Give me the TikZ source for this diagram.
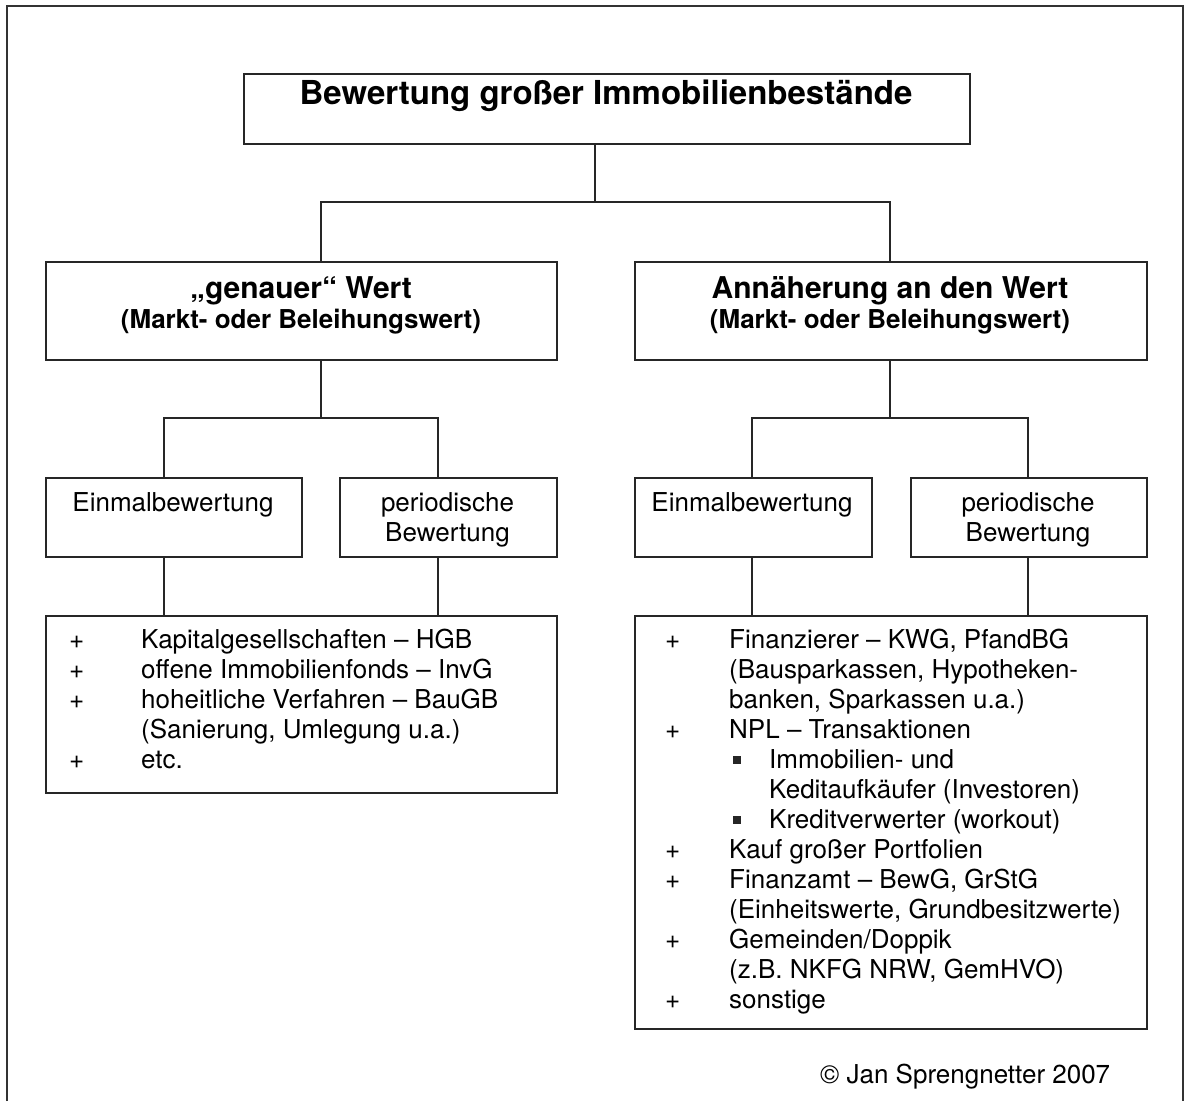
\documentclass[tikz,border=0pt]{standalone}
\usepackage{fontspec}
\setmainfont{TeX Gyre Heros}
\begin{document}
\begin{tikzpicture}[x=1pt,y=-1pt,
  box/.style={draw=black!85,line width=1.8pt,rectangle,inner sep=0pt,anchor=north west},
  conn/.style={draw=black!85,line width=1.4pt},
  normal/.style={inner sep=0pt,font=\fontsize{26}{30}\selectfont},
  subhead/.style={inner sep=0pt,font=\bfseries\fontsize{26}{30}\selectfont,anchor=base},
  head/.style={inner sep=0pt,font=\bfseries\fontsize{30}{36}\selectfont,anchor=base},
  titlefont/.style={inner sep=0pt,font=\bfseries\fontsize{33}{38}\selectfont,anchor=base},
  bulletsq/.style={fill=black!85,inner sep=0pt,minimum size=8.5pt,rectangle}]
\useasboundingbox (0,0) rectangle (1186,1101);
\fill[white] (0,0) rectangle (1186,1101);
% outer frame (open at bottom)
\draw[draw=black!80,line width=2.6pt] (7,1101) -- (7,6) -- (1183,6) -- (1183,1101);

% boxes
\node[box,minimum width=726pt,minimum height=70pt] (top) at (243,73) {};
\node[box,minimum width=511pt,minimum height=98pt] (gen) at (45,261) {};
\node[box,minimum width=512pt,minimum height=98pt] (ann) at (634,261) {};
\node[box,minimum width=256pt,minimum height=79pt] (e1) at (45,477) {};
\node[box,minimum width=217pt,minimum height=79pt] (p1) at (339,477) {};
\node[box,minimum width=237pt,minimum height=79pt] (e2) at (634,477) {};
\node[box,minimum width=236pt,minimum height=79pt] (p2) at (910,477) {};
\node[box,minimum width=511pt,minimum height=177pt] (l1) at (45,615) {};
\node[box,minimum width=512pt,minimum height=413pt] (l2) at (634,615) {};

% connector positions
\coordinate (xa) at (595,0);
\coordinate (xl) at (321,0);
\coordinate (xr) at (890,0);
\coordinate (xle) at (164,0);
\coordinate (xlp) at (438,0);
\coordinate (xre) at (752,0);
\coordinate (xrp) at (1028,0);
\coordinate (hj) at (0,202);
\coordinate (hl) at (0,418);

\draw[conn] (top.south -| xa) -- (xa |- hj);
\draw[conn] (gen.north -| xl) -- (xl |- hj) -- (xr |- hj) -- (ann.north -| xr);
\draw[conn] (gen.south -| xl) -- (xl |- hl);
\draw[conn] (e1.north -| xle) -- (xle |- hl) -- (xlp |- hl) -- (p1.north -| xlp);
\draw[conn] (e1.south -| xle) -- (l1.north -| xle);
\draw[conn] (p1.south -| xlp) -- (l1.north -| xlp);
\draw[conn] (ann.south -| xr) -- (xr |- hl);
\draw[conn] (e2.north -| xre) -- (xre |- hl) -- (xrp |- hl) -- (p2.north -| xrp);
\draw[conn] (e2.south -| xre) -- (l2.north -| xre);
\draw[conn] (p2.south -| xrp) -- (l2.north -| xrp);

% texts in boxes
\node[titlefont] (t0) at (606,104) {Bewertung großer Immobilienbestände};
\node[head] (tg1) at (301,298) {„genauer“ Wert};
\node[subhead] (tg2) at (301,328) {(Markt- oder Beleihungswert)};
\node[head] (ta1) at (890,298) {Annäherung an den Wert};
\node[subhead] (ta2) at (890,328) {(Markt- oder Beleihungswert)};
\node[normal,anchor=base] (te1) at (173,511) {Einmalbewertung};
\node[normal,anchor=base] (tp1a) at (447.5,511) {periodische};
\node[normal,anchor=base] (tp1b) at (447.5,541) {Bewertung};
\node[normal,anchor=base] (te2) at (752,511) {Einmalbewertung};
\node[normal,anchor=base] (tp2a) at (1028,511) {periodische};
\node[normal,anchor=base] (tp2b) at (1028,541) {Bewertung};

% left list
\foreach \yy/\nm in {648/a,678/b,708/c,768/e}
  \node[normal,anchor=base west] (lp\nm) at (69,\yy) {+};
\node[normal,anchor=base west] (la) at (141,648) {Kapitalgesellschaften – HGB};
\node[normal,anchor=base west] (lb) at (141,678) {offene Immobilienfonds – InvG};
\node[normal,anchor=base west] (lc) at (141,708) {hoheitliche Verfahren – BauGB};
\node[normal,anchor=base west] (ld) at (141,738) {(Sanierung, Umlegung u.a.)};
\node[normal,anchor=base west] (le) at (141,768) {etc.};

% right list
\foreach \yy/\nm in {648/a,738/b,858/c,888/d,948/e,1008/f}
  \node[normal,anchor=base west] (rp\nm) at (665,\yy) {+};
\node[normal,anchor=base west] (r1) at (729,648) {Finanzierer – KWG, PfandBG};
\node[normal,anchor=base west] (r2) at (729,678) {(Bausparkassen, Hypotheken-};
\node[normal,anchor=base west] (r3) at (729,708) {banken, Sparkassen u.a.)};
\node[normal,anchor=base west] (r4) at (729,738) {NPL – Transaktionen};
\node[bulletsq] (rb1) at (737,760) {};
\node[normal,anchor=base west] (r5) at (769,768) {Immobilien- und};
\node[normal,anchor=base west] (r6) at (769,798) {Keditaufkäufer (Investoren)};
\node[bulletsq] (rb2) at (737,820) {};
\node[normal,anchor=base west] (r7) at (769,828) {Kreditverwerter (workout)};
\node[normal,anchor=base west] (r8) at (729,858) {Kauf großer Portfolien};
\node[normal,anchor=base west] (r9) at (729,888) {Finanzamt – BewG, GrStG};
\node[normal,anchor=base west] (r10) at (729,918) {(Einheitswerte, Grundbesitzwerte)};
\node[normal,anchor=base west] (r11) at (729,948) {Gemeinden/Doppik};
\node[normal,anchor=base west] (r12) at (729,978) {(z.B. NKFG NRW, GemHVO)};
\node[normal,anchor=base west] (r13) at (729,1008) {sonstige};

% copyright
\node[normal,anchor=base west] (copy) at (820,1083) {© Jan Sprengnetter 2007};
\end{tikzpicture}
\end{document}
